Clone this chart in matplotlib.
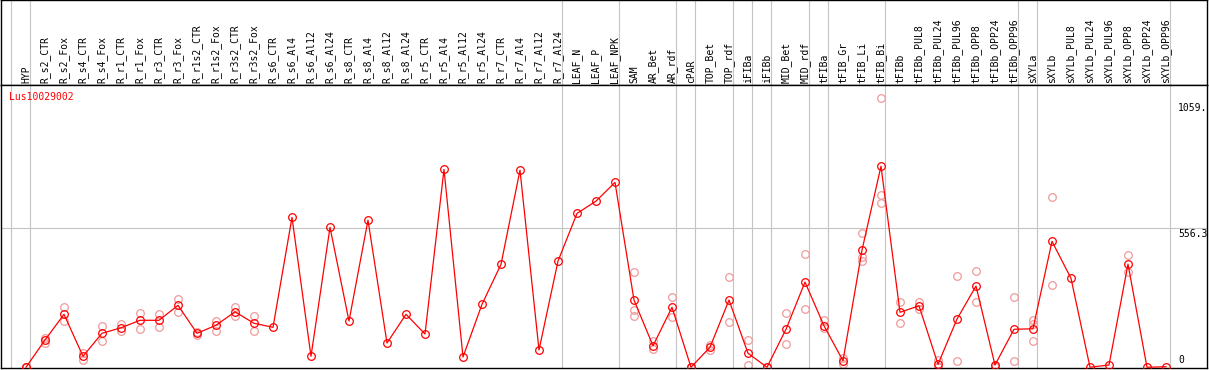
import numpy as np
import matplotlib
matplotlib.use("Agg")
import matplotlib.pyplot as plt
import matplotlib.transforms as mtransforms

labels = ["HYP", "R_s2_CTR", "R_s2_Fox", "R_s4_CTR", "R_s4_Fox", "R_r1_CTR", "R_r1_Fox",
          "R_r3_CTR", "R_r3_Fox", "R_r1s2_CTR", "R_r1s2_Fox", "R_r3s2_CTR", "R_r3s2_Fox",
          "R_s6_CTR", "R_s6_Al4", "R_s6_Al12", "R_s6_Al24", "R_s8_CTR", "R_s8_Al4",
          "R_s8_Al12", "R_s8_Al24", "R_r5_CTR", "R_r5_Al4", "R_r5_Al12", "R_r5_Al24",
          "R_r7_CTR", "R_r7_Al4", "R_r7_Al12", "R_r7_Al24", "LEAF_N", "LEAF_P", "LEAF_NPK",
          "SAM", "AR_Bet", "AR_rdf", "cPAR", "TOP_Bet", "TOP_rdf", "iFIBa", "iFIBb",
          "MID_Bet", "MID_rdf", "tFIBa", "tFIB_Gr", "tFIB_Li", "tFIB_Bi", "tFIBb",
          "tFIBb_PUL8", "tFIBb_PUL24", "tFIBb_PUL96", "tFIBb_OPP8", "tFIBb_OPP24",
          "tFIBb_OPP96", "sXYLa", "sXYLb", "sXYLb_PUL8", "sXYLb_PUL24", "sXYLb_PUL96",
          "sXYLb_OPP8", "sXYLb_OPP24", "sXYLb_OPP96"]

means = [0, 109, 212, 44, 136, 158, 188, 188, 248, 136, 168, 222, 176,
         160, 600, 44, 560, 185, 589, 97, 212, 133, 792, 41, 252,
         412, 789, 69, 425, 616, 665, 740,
         269, 86, 240, 0, 80, 269, 56, 0, 152, 341,
         166, 26, 469, 805, 220, 246, 12, 193, 325, 9, 152,
         154, 504, 356, 0, 9, 413, 0, 2]

replicates = [[0, 0], [117, 98], [240, 185], [56, 29], [165, 104], [173, 146], [216, 154],
              [212, 162], [273, 222], [140, 129], [185, 146], [240, 206], [206, 144],
              [], [], [], [], [], [], [], [], [], [], [], [], [], [], [], [], [], [], [],
              [380, 229, 204], [105, 74], [280, 200], [0, 0], [89, 69], [360, 180],
              [109, 8], [0, 0], [216, 92], [453, 232],
              [189, 156], [36, 13], [536, 440, 425], [1076, 689, 656], [260, 177],
              [262, 233], [29, 0], [364, 25], [385, 260], [0, 5], [280, 25],
              [189, 172, 105], [680, 328], [], [], [], [449, 383], [], []]

# last sample of each block (gray separators drawn just right of them)
group_ends = [-1, 0, 28, 31, 34, 35, 37, 38, 39, 41, 42, 45, 52, 53, 60]

gene = "Lus10029002"
ytick_vals = [1059, 556.3, 0]
ytick_text = ["1059.", "556.3", "0"]

W, H = 1209, 370
fig = plt.figure(figsize=(W / 100, H / 100), dpi=100)
left, right = 1, 1207
top_line, bottom_line = 85, 368

ax_lab = fig.add_axes([left / W, 1 - top_line / H, (right - left) / W, top_line / H])
ax = fig.add_axes([left / W, 1 - bottom_line / H, (right - left) / W, (bottom_line - top_line) / H],
                  sharex=ax_lab)

x = np.arange(len(labels))
ax.set_xlim((left - 26) / 19, (right - 26) / 19)
ax.set_ylim(-3, 1130)

mono = "DejaVu Sans Mono"
gray = "#c4c4c4"

for a in (ax, ax_lab):
    for g in group_ends:
        a.axvline(g + 0.2, color=gray, lw=0.8, zorder=0)
    a.set_xticks([])
    a.set_yticks([])
    for s in a.spines.values():
        s.set_color("black")
        s.set_linewidth(1.0)

ax.axhline(556.3, color=gray, lw=0.8, zorder=0)

# labels above the plot
trans = mtransforms.blended_transform_factory(ax_lab.transData, ax_lab.transAxes)
for i, lab in enumerate(labels):
    ax_lab.text(i, 0.025, lab, rotation=90, ha="center", va="bottom",
                fontsize=7, family=mono, transform=trans)

# replicate points
for i, reps in enumerate(replicates):
    if reps:
        ax.plot([i] * len(reps), reps, "o", ms=5.5, mfc="none", mec="#ef9a9a",
                mew=0.9, zorder=2)

ax.plot(x, means, "-", color="red", lw=0.9, zorder=3)
ax.plot(x, means, "o", ms=5.5, mfc="none", mec="red", mew=0.9, zorder=4)

ax.text(8 / (right - left), 1 - 12 / (bottom_line - top_line), gene, color="red",
        fontsize=7, family=mono, ha="left", va="center", transform=ax.transAxes)

tx = (1178 - 26) / 19
ax.text(tx, 1059, ytick_text[0], fontsize=7, family=mono, ha="left", va="top")
ax.text(tx, 556.3 - 2, ytick_text[1], fontsize=7, family=mono, ha="left", va="top")
ax.text(tx, 8, ytick_text[2], fontsize=7, family=mono, ha="left", va="bottom")

fig.savefig("out.png", dpi=100)
